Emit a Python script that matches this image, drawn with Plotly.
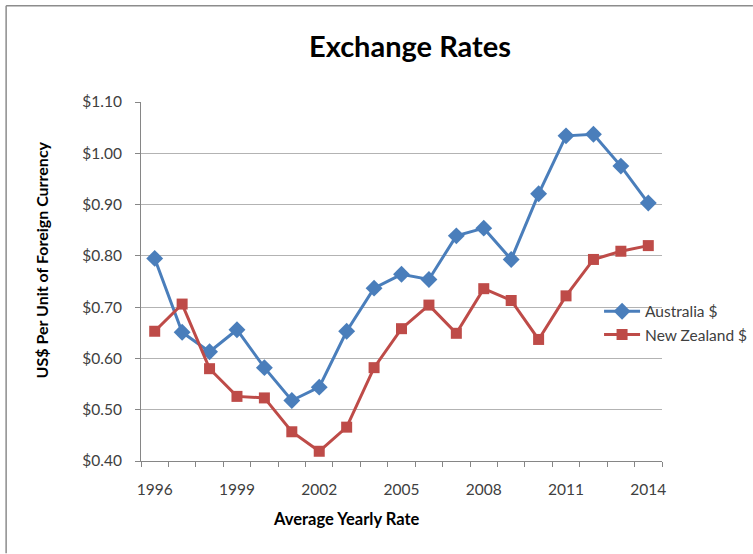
import plotly.graph_objects as go

years = [str(y) for y in range(1996, 2015)]
australia = [0.795, 0.651, 0.613, 0.656, 0.582, 0.518, 0.544, 0.653, 0.737, 0.764, 0.754,
             0.839, 0.854, 0.793, 0.921, 1.034, 1.037, 0.975, 0.903]
new_zealand = [0.653, 0.706, 0.580, 0.526, 0.523, 0.457, 0.419, 0.466, 0.582, 0.658, 0.704,
               0.649, 0.736, 0.713, 0.637, 0.722, 0.793, 0.809, 0.820]
tick_labels = ["1996", "1999", "2002", "2005", "2008", "2011", "2014"]

W, H = 753, 554
L, R, T, B = 140.5, 91, 102, 92.5
pw, ph = W - L - R, H - T - B

def px(x):
    return (x - L) / pw

def py(y):
    return (H - B - y) / ph

idx = list(range(len(years)))
font = "Lato, 'Open Sans', sans-serif"

fig = go.Figure()
fig.add_trace(go.Scatter(x=idx, y=australia, name="Australia $", mode="lines+markers",
                         line=dict(color="#4a7ebb", width=3),
                         marker=dict(symbol="diamond", size=13, color="#4a7ebb")))
fig.add_trace(go.Scatter(x=idx, y=new_zealand, name="New Zealand $", mode="lines+markers",
                         line=dict(color="#be4b48", width=3),
                         marker=dict(symbol="square", size=11, color="#be4b48")))

tv = [years.index(t) for t in tick_labels]

fig.update_layout(
    width=W, height=H,
    margin=dict(l=L, r=R, t=T, b=B, autoexpand=False),
    paper_bgcolor="white", plot_bgcolor="white",
    font=dict(family=font, size=15.5, color="#404040"),
    title=dict(text="<b>Exchange Rates</b>", xref="container", x=410 / W, xanchor="center",
               yref="container", y=1 - 47 / H, yanchor="middle",
               font=dict(family=font, size=29, color="black")),
    showlegend=True,
    legend=dict(x=px(599), y=py(295), xanchor="left", yanchor="top",
                font=dict(family=font, size=15.5, color="#404040"),
                bgcolor="rgba(0,0,0,0)", itemwidth=36),
    xaxis=dict(range=[-0.5, len(years) - 0.5], tickvals=tv, ticktext=tick_labels,
               showgrid=False, zeroline=False, showline=True, linecolor="#868686", linewidth=1,
               ticks="outside", ticklen=5, tickcolor="rgba(0,0,0,0)", ticklabelstandoff=9,
               tickfont=dict(size=15.5, color="#404040"),
               minor=dict(tickmode="linear", tick0=-0.5, dtick=1, ticks="outside",
                          ticklen=5, tickcolor="#868686", showgrid=False)),
    yaxis=dict(range=[0.4, 1.1], tick0=0.4, dtick=0.1, tickformat="$.2f",
               showgrid=True, gridcolor="#b3b3b3", gridwidth=1, zeroline=False,
               showline=True, linecolor="#868686", linewidth=1,
               ticks="outside", ticklen=5, tickcolor="#868686", ticklabelstandoff=10,
               tickfont=dict(size=15.5, color="#404040")),
    annotations=[
        dict(text="<b>Average Yearly Rate</b>", xref="paper", yref="paper",
             x=px(346), y=py(520), xanchor="center", yanchor="middle", showarrow=False,
             font=dict(family=font, size=16.5, color="black")),
        dict(text="<b>US$ Per Unit of Foreign Currency</b>", xref="paper", yref="paper",
             x=px(41), y=py(260), xanchor="center", yanchor="middle", showarrow=False,
             textangle=-90, font=dict(family=font, size=16, color="black")),
    ],
    shapes=[
        dict(type="line", xref="paper", yref="paper", x0=px(5.5), x1=px(W), y0=py(5.5), y1=py(5.5),
             line=dict(color="#8c8c8c", width=1.5)),
        dict(type="line", xref="paper", yref="paper", x0=px(5.5), x1=px(5.5), y0=py(5.5), y1=py(H),
             line=dict(color="#8c8c8c", width=1.5)),
    ],
)

fig.write_html("out.html", config={"displayModeBar": False},
               post_script="document.body.style.margin='0';document.body.style.overflow='hidden';")
